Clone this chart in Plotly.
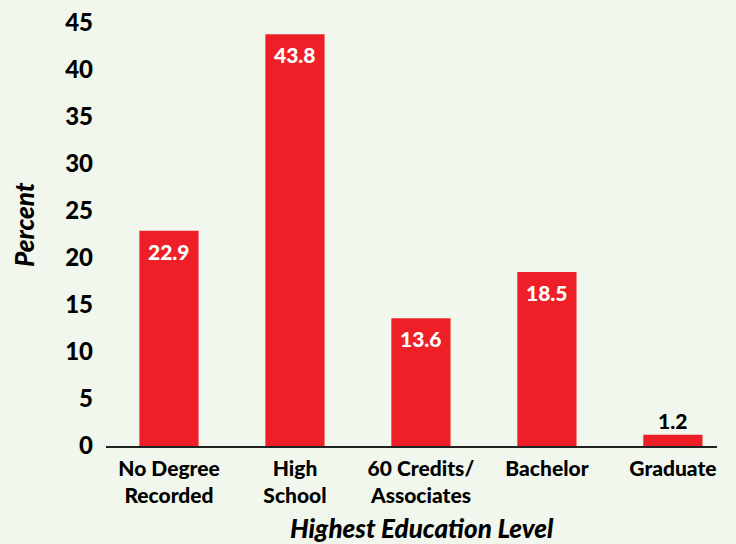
import plotly.graph_objects as go

categories = ["No Degree<br>Recorded", "High<br>School", "60 Credits/<br>Associates", "Bachelor", "Graduate"]
values = [22.9, 43.8, 13.6, 18.5, 1.2]
label_inside = [True, True, True, True, False]
y_ticks = [0, 5, 10, 15, 20, 25, 30, 35, 40, 45]
x_title = "Highest Education Level"
y_title = "Percent"

BG = "#f2f7ed"
RED = "#ee1f26"
FONT = "Lato"
W = 900

fig = go.Figure(go.Bar(
    x=categories,
    y=values,
    marker=dict(color=RED, line=dict(width=0)),
    hoverinfo="x+y",
))

annotations = []
for cat, val, inside in zip(categories, values, label_inside):
    annotations.append(dict(
        x=cat, y=val, xref="x", yref="y", text=f"{val}", showarrow=False,
        xanchor="center", yanchor="top" if inside else "bottom",
        yshift=-6 if inside else 0,
        font=dict(family=FONT, size=21, weight=W, color="white" if inside else "black"),
    ))

annotations += [
    dict(text=f"<i>{x_title}</i>", xref="paper", yref="paper",
         x=0.517, y=-0.194, xanchor="center", yanchor="middle", showarrow=False,
         font=dict(family=FONT, size=26, weight=W)),
    dict(text=f"<i>{y_title}</i>", xref="paper", yref="paper", textangle=-90,
         x=-0.134, y=0.5225, xanchor="center", yanchor="middle", showarrow=False,
         font=dict(family=FONT, size=26, weight=W)),
]

fig.update_layout(
    width=736, height=544,
    paper_bgcolor=BG, plot_bgcolor=BG,
    margin=dict(l=106, r=19, t=23, b=98, autoexpand=False),
    bargap=0.53,
    showlegend=False,
    font=dict(family=FONT, color="black"),
    xaxis=dict(
        range=[-0.5, 4.35], automargin=False,
        showline=True, linecolor="#222", linewidth=1.5,
        ticks="", showgrid=False, ticklabelstandoff=3,
        tickfont=dict(family=FONT, size=21, weight=W),
    ),
    yaxis=dict(
        range=[0, 45], tickvals=y_ticks, automargin=False,
        showline=False, showgrid=False, zeroline=False, ticks="",
        ticklabelstandoff=12,
        tickfont=dict(family=FONT, size=24, weight=W),
    ),
    annotations=annotations,
)

fig.write_html(
    "out.html",
    config={"displayModeBar": False},
    post_script="document.body.style.margin='0';document.body.style.background='" + BG + "';",
)
